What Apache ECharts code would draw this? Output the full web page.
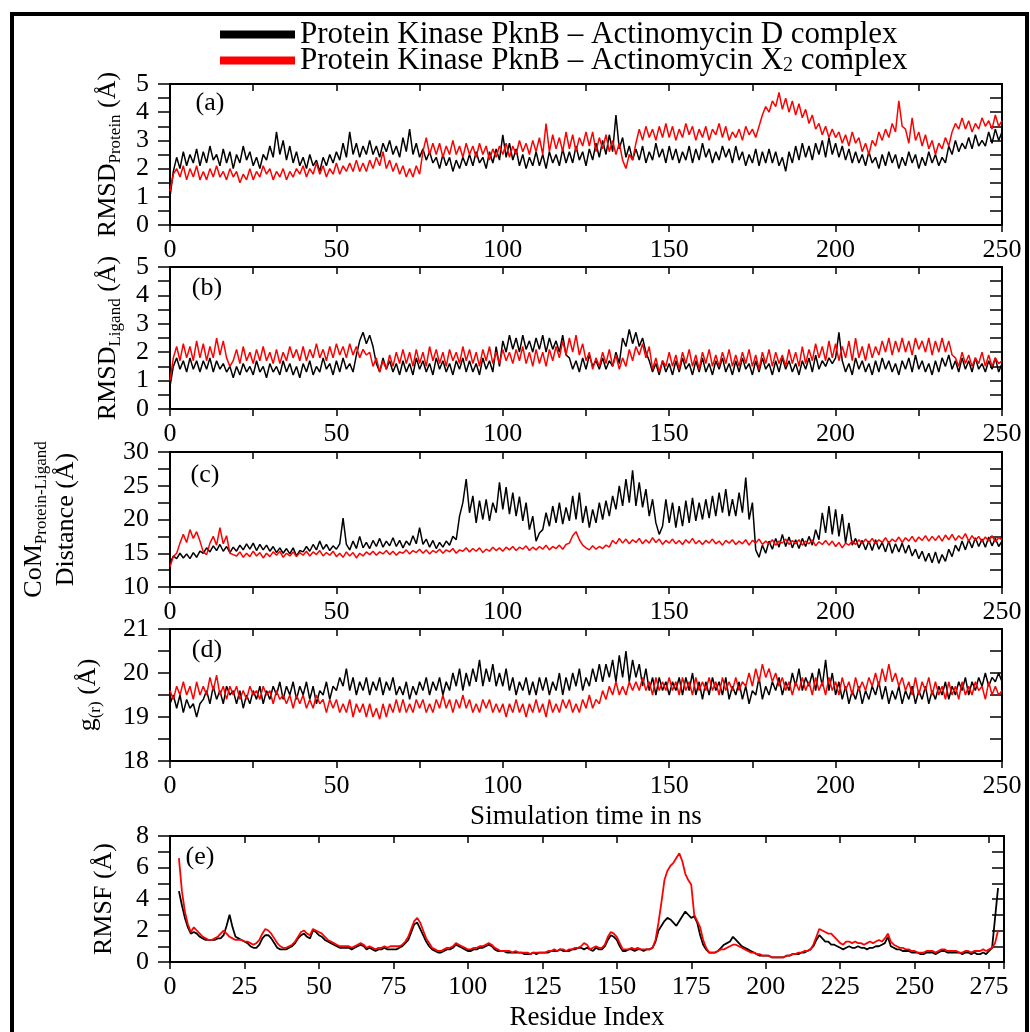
<!DOCTYPE html>
<html>
<head>
<meta charset="utf-8">
<script src="https://cdn.jsdelivr.net/npm/echarts@6/dist/echarts.min.js"></script>
<style>html,body{margin:0;padding:0;background:#fff}#c{width:1030px;height:1032px}</style>
</head>
<body>
<div id="c"></div>
<script>
const FONT = 'Liberation Serif';
const NAME_D = 'Protein Kinase PknB – Actinomycin D complex';
const NAME_X = 'Protein Kinase PknB – Actinomycin X2 complex';
const TIME_STEP_NS = 1;
const RESIDUE_START = 3;

// (a) RMSD protein (Å), one sample per ns, 0..250
const rmsdProteinD = [1.0,1.9,2.4,2.0,2.6,2.1,2.5,2.2,2.7,2.1,
 2.6,2.2,2.8,2.3,2.5,2.1,2.7,2.2,2.6,2.0,
 2.5,2.2,2.8,2.3,2.6,2.1,2.4,2.0,2.5,2.3,
 2.8,2.4,3.3,2.5,3.0,2.3,2.8,2.2,2.6,2.1,
 2.4,2.0,2.5,2.1,2.3,1.9,2.4,2.1,2.5,2.2,
 2.6,2.3,2.9,2.4,3.3,2.5,2.9,2.4,2.8,2.5,
 3.0,2.5,2.8,2.4,2.9,2.6,3.0,2.5,2.8,2.4,
 3.1,2.6,3.4,2.5,2.9,2.4,2.7,2.3,2.6,2.2,
 2.4,2.0,2.5,2.1,2.4,1.9,2.3,2.0,2.4,2.1,
 2.5,2.1,2.6,2.2,2.4,2.0,2.6,2.2,2.7,2.3,
 3.2,2.4,2.9,2.3,2.7,2.1,2.5,2.0,2.4,2.1,
 2.6,2.1,2.5,2.0,2.6,2.2,2.5,2.1,2.7,2.2,
 2.6,2.2,2.8,2.3,2.6,2.1,2.7,2.3,2.9,2.4,
 3.0,2.5,3.2,2.6,3.9,2.7,3.1,2.4,2.8,2.3,
 2.7,2.3,2.8,2.2,2.6,2.3,2.9,2.4,2.7,2.2,
 2.8,2.3,2.7,2.2,2.6,2.3,2.8,2.2,2.7,2.3,
 2.9,2.4,2.7,2.2,2.6,2.3,2.8,2.4,2.7,2.2,
 2.8,2.3,2.6,2.1,2.5,2.2,2.7,2.1,2.6,2.2,
 2.7,2.2,2.6,2.1,2.4,1.9,2.6,2.2,2.8,2.3,
 2.9,2.4,2.8,2.3,2.9,2.5,3.0,2.4,3.1,2.5,
 2.9,2.4,2.8,2.3,2.7,2.2,2.6,2.2,2.5,2.1,
 2.6,2.2,2.4,2.0,2.5,2.1,2.6,2.2,2.5,2.0,
 2.4,2.1,2.6,2.2,2.5,2.0,2.4,2.1,2.6,2.2,
 2.5,2.1,2.4,2.2,2.8,2.5,3.0,2.6,2.9,2.7,
 3.1,2.7,3.2,2.8,3.0,2.8,3.3,2.9,3.4,3.0,
 3.3];
const rmsdProteinX = [1.2,1.8,2.0,1.7,2.1,1.6,2.0,1.7,2.1,1.6,
 1.9,1.6,2.0,1.7,2.1,1.7,1.9,1.6,2.0,1.7,
 1.9,1.5,1.8,1.6,2.0,1.6,1.9,1.7,2.1,1.8,
 2.0,1.6,1.9,1.7,2.0,1.6,1.9,1.7,2.0,1.8,
 2.1,1.7,2.0,1.8,2.2,1.8,2.1,1.7,2.0,1.8,
 2.2,1.8,2.1,1.9,2.2,1.9,2.3,1.9,2.2,1.9,
 2.3,2.0,2.4,2.1,2.6,2.0,2.3,1.9,2.2,1.8,
 2.1,1.7,2.0,1.7,2.1,1.8,2.6,3.1,2.5,2.9,
 2.5,2.9,2.4,2.8,2.5,3.0,2.5,2.8,2.4,2.9,
 2.5,2.8,2.4,2.9,2.5,2.8,2.3,2.7,2.4,2.8,
 2.5,2.9,2.4,2.8,2.5,3.0,2.6,2.9,2.5,3.0,
 2.6,3.1,2.5,3.6,2.6,3.2,2.7,3.1,2.6,3.3,
 2.7,3.2,2.6,3.1,2.8,3.3,2.8,3.3,2.6,3.1,
 2.7,3.2,2.6,3.0,2.5,2.9,2.3,2.0,2.5,2.3,
 2.9,3.4,3.0,3.5,3.1,3.4,3.0,3.5,3.1,3.6,
 3.1,3.5,3.0,3.4,3.1,3.6,3.2,3.5,3.0,3.4,
 3.1,3.5,3.0,3.4,3.2,3.6,3.1,3.5,3.0,3.3,
 3.1,3.4,3.0,3.5,3.2,3.4,3.1,3.5,3.9,4.2,
 4.0,4.4,4.2,4.7,4.1,4.5,4.0,4.4,3.9,4.3,
 3.8,4.1,3.6,3.9,3.4,3.6,3.2,3.5,3.1,3.4,
 3.1,3.3,2.9,3.2,2.8,3.3,2.9,3.1,2.6,2.9,
 2.5,3.0,2.8,3.3,3.0,3.4,3.1,3.6,3.3,4.4,
 3.5,3.4,2.9,3.8,3.0,3.3,2.8,3.2,2.7,3.0,
 2.5,2.9,2.7,3.1,2.8,3.3,3.6,3.4,3.8,3.4,
 3.7,3.3,3.6,3.4,3.8,3.5,3.7,3.4,3.9,3.5,
 3.7];

// (b) RMSD ligand (Å)
const rmsdLigandD = [0.8,1.5,1.8,1.4,1.7,1.3,1.8,1.4,1.7,1.3,
 1.7,1.4,1.8,1.3,1.7,1.4,1.6,1.3,1.5,1.1,
 1.5,1.2,1.6,1.3,1.5,1.2,1.7,1.3,1.5,1.1,
 1.6,1.3,1.5,1.2,1.7,1.3,1.6,1.2,1.5,1.1,
 1.6,1.3,1.7,1.2,1.5,1.3,1.8,1.4,1.6,1.2,
 1.7,1.3,1.8,1.4,1.6,1.3,1.9,2.4,2.7,2.3,
 2.6,2.2,1.6,1.3,1.8,1.4,1.7,1.3,1.6,1.2,
 1.7,1.3,1.6,1.2,1.8,1.4,1.7,1.3,1.6,1.2,
 1.8,1.4,1.7,1.3,1.6,1.2,1.7,1.4,1.8,1.3,
 1.7,1.3,1.6,1.2,1.8,1.4,1.7,1.3,2.2,1.5,
 2.4,2.0,2.6,2.1,2.5,2.0,2.6,2.1,2.4,2.0,
 2.5,2.1,2.6,2.0,2.5,2.1,2.4,2.0,2.6,1.9,
 1.8,1.4,1.7,1.3,1.8,1.4,1.9,1.5,1.7,1.4,
 1.8,1.4,1.7,1.5,2.0,1.6,2.5,2.2,2.8,2.3,
 2.7,2.2,2.5,2.0,1.7,1.3,1.6,1.2,1.7,1.3,
 1.6,1.2,1.7,1.3,1.8,1.4,1.6,1.2,1.7,1.3,
 1.8,1.3,1.6,1.2,1.7,1.4,1.8,1.3,1.6,1.2,
 1.7,1.3,1.8,1.4,1.6,1.2,1.7,1.3,1.8,1.4,
 1.6,1.2,1.7,1.3,1.8,1.4,1.7,1.3,1.6,1.2,
 1.7,1.4,1.8,1.3,1.9,1.4,1.7,1.5,1.8,1.6,
 1.8,2.7,1.7,1.3,1.6,1.2,1.8,1.4,1.7,1.3,
 1.6,1.2,1.7,1.3,1.8,1.4,1.7,1.3,1.6,1.2,
 1.7,1.4,1.8,1.3,1.9,1.4,1.7,1.3,1.6,1.2,
 1.7,1.3,1.8,1.5,1.9,1.4,1.7,1.3,1.8,1.4,
 1.7,1.3,1.8,1.4,1.6,1.3,1.7,1.4,1.8,1.3,
 1.6];
const rmsdLigandX = [1.0,1.8,2.2,1.7,2.3,1.8,2.2,1.7,2.4,1.8,
 2.3,1.7,2.2,1.8,2.5,1.9,2.4,1.8,1.5,1.7,
 2.1,1.6,2.2,1.7,2.0,1.6,2.1,1.7,2.2,1.7,
 2.0,1.6,2.1,1.6,2.0,1.7,2.2,1.8,2.1,1.7,
 2.2,1.7,2.1,1.8,2.3,1.8,2.1,1.7,2.2,1.8,
 2.3,1.9,2.2,1.8,2.3,1.9,2.2,1.8,2.1,1.9,
 2.0,1.5,1.8,1.3,1.7,1.4,1.9,1.5,2.0,1.6,
 2.1,1.6,2.0,1.5,2.1,1.6,2.0,1.5,2.2,1.7,
 2.1,1.6,2.0,1.5,2.1,1.7,2.0,1.6,2.2,1.7,
 2.1,1.6,2.0,1.5,2.1,1.7,2.2,1.6,2.0,1.6,
 2.1,1.7,2.0,1.6,2.1,1.7,2.2,1.6,2.0,1.5,
 2.1,1.6,2.0,1.5,2.1,1.7,2.2,1.8,2.4,1.9,
 2.5,2.0,2.6,1.9,2.3,1.7,2.0,1.4,1.8,1.5,
 2.0,1.6,2.1,1.5,1.9,1.4,1.8,1.5,2.1,1.7,
 2.2,1.9,2.3,1.8,2.2,1.4,1.8,1.3,1.7,1.5,
 2.0,1.5,1.9,1.4,2.0,1.6,2.1,1.5,1.9,1.4,
 2.0,1.6,2.1,1.5,1.9,1.5,2.0,1.6,2.1,1.5,
 1.9,1.5,2.0,1.6,2.1,1.5,1.9,1.4,2.0,1.6,
 2.1,1.5,2.0,1.6,1.9,1.5,2.1,1.6,2.0,1.5,
 2.2,1.6,2.1,1.7,2.3,1.8,2.2,1.7,2.4,1.8,
 2.3,1.7,2.2,1.8,2.4,1.7,2.5,1.8,2.2,1.7,
 2.3,1.8,2.2,1.9,2.4,2.0,2.5,1.9,2.4,2.0,
 2.5,2.0,2.4,1.9,2.5,2.1,2.4,2.0,2.5,1.9,
 2.4,2.0,2.5,2.0,2.4,1.9,1.8,1.5,2.0,1.6,
 1.9,1.5,1.8,1.6,2.0,1.5,1.9,1.5,1.8,1.6,
 1.7];

// (c) CoM protein-ligand distance (Å)
const comDistD = [13.5,14.6,14.2,15.0,14.3,14.9,14.2,15.1,14.4,15.3,
 15.0,15.8,15.2,16.1,15.4,16.3,15.3,16.0,15.1,15.9,
 15.3,16.2,15.5,16.4,15.6,16.5,15.4,16.3,15.5,16.2,
 15.3,16.0,15.1,15.8,15.0,15.7,14.9,15.8,14.6,15.4,
 15.2,16.0,15.3,16.3,15.5,16.8,15.6,16.3,15.4,16.1,
 15.6,16.4,20.2,16.3,15.5,16.8,15.7,17.5,15.8,16.6,
 15.7,16.9,16.0,17.2,15.9,16.8,16.1,17.3,16.0,16.9,
 15.8,16.8,16.2,17.6,16.4,18.8,16.3,17.1,15.9,16.9,
 15.7,16.6,15.9,16.8,16.2,17.5,17.0,20.5,22.5,26.0,
 21.0,23.5,19.5,22.8,20.0,23.0,19.8,22.5,21.0,25.5,
 21.5,24.8,20.8,24.0,20.5,23.4,19.8,22.5,18.5,20.5,
 16.8,18.0,18.5,21.0,19.0,22.0,19.5,22.5,19.3,21.8,
 19.8,23.5,20.0,24.0,19.5,22.0,18.8,21.5,19.5,22.5,
 20.0,22.8,20.5,23.5,21.5,25.0,22.0,26.0,22.5,27.3,
 22.0,25.5,21.8,24.5,20.5,23.0,19.5,17.8,19.0,23.0,
 19.5,22.5,18.8,22.0,19.0,22.8,19.5,23.2,19.8,22.5,
 20.0,23.0,20.2,23.5,20.5,24.0,21.0,24.5,20.5,23.0,
 20.5,24.0,21.0,26.2,20.0,22.5,15.5,14.4,16.2,15.0,
 16.8,15.6,17.2,15.9,17.8,16.0,17.4,15.8,17.0,15.7,
 17.2,16.0,17.5,16.2,18.5,17.0,21.0,18.0,22.0,17.8,
 21.5,17.5,20.8,16.5,19.5,16.2,17.2,15.8,16.9,15.5,
 16.8,15.4,17.0,15.6,16.6,15.2,16.8,15.0,16.4,15.2,
 16.5,15.0,16.2,14.6,15.6,14.2,15.3,13.8,15.0,13.6,
 15.2,13.5,14.8,13.8,15.6,14.5,16.2,15.3,16.8,15.5,
 17.0,15.8,17.3,16.0,17.1,15.9,17.4,16.1,17.2,16.0,
 16.8];
const comDistX = [13.0,14.5,15.0,16.5,17.8,16.6,18.5,17.2,18.2,16.8,
 15.2,14.8,16.5,17.5,16.2,18.8,16.4,17.6,15.0,14.8,
 14.6,15.2,14.4,15.0,14.5,15.3,14.6,15.1,14.3,15.0,
 14.5,15.2,14.7,15.3,14.4,15.0,14.6,15.2,14.5,15.1,
 14.7,15.3,14.6,15.2,14.8,15.4,14.6,15.1,14.7,15.3,
 14.5,15.0,14.4,15.2,14.6,15.1,14.3,15.0,14.6,15.2,
 14.8,15.3,14.7,15.2,14.9,15.4,14.8,15.3,14.7,15.2,
 15.0,15.5,14.9,15.4,15.1,15.6,15.0,15.5,14.9,15.4,
 15.1,15.6,15.0,15.5,15.2,15.7,15.0,15.5,15.3,15.8,
 15.2,15.7,15.3,15.8,15.1,15.6,15.3,15.9,15.4,15.8,
 15.3,15.9,15.5,16.0,15.4,15.9,15.6,16.1,15.4,15.9,
 15.5,16.0,15.6,16.2,15.5,16.0,15.7,16.2,15.6,16.3,
 16.5,17.6,18.2,17.0,16.2,15.8,15.5,16.1,15.6,16.0,
 15.7,16.2,15.9,16.9,16.4,17.2,16.5,17.1,16.4,17.0,
 16.6,17.2,16.4,17.0,16.5,17.3,16.6,17.1,16.3,16.9,
 16.5,17.1,16.4,16.9,16.3,17.0,16.5,17.2,16.4,16.9,
 16.3,16.9,16.5,17.1,16.4,16.8,16.2,16.9,16.5,17.0,
 16.3,16.8,16.4,17.0,16.2,16.9,16.5,17.1,16.3,16.8,
 16.4,17.0,16.2,16.8,16.5,17.1,16.3,16.9,16.4,17.0,
 16.2,16.8,16.4,17.0,16.1,16.7,16.3,16.9,16.2,16.8,
 16.0,16.6,15.8,16.5,16.2,16.8,16.3,17.0,16.4,17.1,
 16.5,17.2,16.4,17.0,16.6,17.3,16.5,17.1,16.7,17.4,
 16.6,17.3,16.8,17.5,16.7,17.4,16.9,17.6,16.8,17.5,
 16.9,17.6,16.8,17.7,17.0,17.8,16.9,17.6,17.1,17.9,
 16.8,17.6,16.9,17.5,16.7,17.4,16.8,17.6,16.7,17.3,
 17.0];

// (d) radius of gyration (Å)
const gyrD = [19.3,19.5,19.2,19.5,19.1,19.4,19.2,19.3,19.0,19.3,
 19.4,19.6,19.3,19.7,19.4,19.6,19.3,19.7,19.5,19.6,
 19.3,19.6,19.2,19.5,19.3,19.6,19.4,19.7,19.3,19.6,
 19.4,19.7,19.5,19.8,19.4,19.7,19.5,19.8,19.4,19.7,
 19.5,19.8,19.4,19.7,19.3,19.6,19.5,19.8,19.4,19.7,
 19.6,19.9,19.7,20.1,19.6,19.9,19.5,19.8,19.6,19.9,
 19.5,19.8,19.6,19.9,19.5,19.8,19.6,19.9,19.5,19.7,
 19.5,19.8,19.4,19.7,19.5,19.8,19.6,19.9,19.5,19.8,
 19.6,19.9,19.5,19.8,19.6,20.0,19.7,20.1,19.6,20.0,
 19.7,20.1,19.8,20.3,19.7,20.1,19.8,20.2,19.7,20.0,
 19.7,20.1,19.6,19.9,19.5,19.8,19.6,19.9,19.5,19.8,
 19.5,19.9,19.6,19.9,19.5,19.8,19.6,20.0,19.5,19.9,
 19.6,20.0,19.7,20.1,19.6,19.9,19.7,20.1,19.8,20.2,
 19.8,20.2,19.9,20.3,19.8,20.4,19.9,20.5,19.8,20.3,
 19.9,20.2,19.7,20.1,19.6,19.9,19.5,19.9,19.6,19.8,
 19.5,19.8,19.6,19.9,19.5,19.9,19.6,20.0,19.5,19.8,
 19.4,19.8,19.5,19.9,19.6,19.8,19.5,19.9,19.4,19.7,
 19.5,19.8,19.4,19.7,19.3,19.6,19.5,19.9,19.4,19.7,
 19.5,19.8,19.6,19.9,19.5,19.8,19.6,20.0,19.7,20.1,
 19.6,19.9,19.7,20.0,19.6,20.1,19.7,20.3,19.6,20.0,
 19.5,19.8,19.4,19.7,19.3,19.6,19.4,19.7,19.3,19.6,
 19.4,19.7,19.5,19.8,19.4,19.7,19.3,19.6,19.4,19.7,
 19.3,19.6,19.4,19.7,19.3,19.6,19.4,19.7,19.3,19.6,
 19.4,19.7,19.5,19.8,19.4,19.7,19.5,19.8,19.6,19.9,
 19.5,19.8,19.6,19.9,19.7,20.0,19.7,19.9,19.8,20.0,
 19.8];
const gyrX = [19.6,19.4,19.7,19.5,19.8,19.5,19.7,19.4,19.8,19.5,
 19.7,19.5,19.9,19.6,19.95,19.5,19.7,19.4,19.7,19.5,
 19.7,19.4,19.6,19.4,19.7,19.5,19.6,19.4,19.7,19.5,
 19.6,19.3,19.6,19.4,19.5,19.3,19.5,19.2,19.5,19.3,
 19.5,19.2,19.4,19.2,19.5,19.3,19.4,19.1,19.4,19.2,
 19.4,19.1,19.3,19.1,19.4,19.0,19.3,19.1,19.3,19.0,
 19.3,19.0,19.2,18.95,19.3,19.0,19.3,19.1,19.4,19.1,
 19.4,19.1,19.3,19.1,19.4,19.2,19.4,19.1,19.3,19.1,
 19.4,19.2,19.5,19.2,19.4,19.1,19.4,19.2,19.5,19.2,
 19.4,19.1,19.3,19.1,19.4,19.2,19.4,19.1,19.3,19.1,
 19.3,19.0,19.3,19.1,19.4,19.1,19.3,19.0,19.3,19.1,
 19.4,19.1,19.3,19.0,19.4,19.1,19.3,19.1,19.4,19.2,
 19.4,19.1,19.3,19.1,19.4,19.2,19.5,19.2,19.4,19.3,
 19.6,19.4,19.7,19.5,19.8,19.5,19.7,19.5,19.8,19.6,
 19.8,19.6,19.9,19.6,19.8,19.5,19.9,19.6,19.8,19.6,
 19.9,19.6,19.8,19.5,19.9,19.6,19.8,19.5,19.9,19.6,
 19.8,19.6,19.9,19.6,19.8,19.5,19.9,19.6,19.8,19.6,
 19.9,19.6,19.8,19.7,20.0,19.7,20.1,19.8,20.2,19.9,
 20.1,19.8,20.0,19.7,19.9,19.6,19.8,19.5,19.8,19.6,
 19.9,19.6,19.8,19.5,19.9,19.6,19.8,19.5,19.9,19.6,
 19.8,19.5,19.9,19.6,19.8,19.5,19.9,19.6,19.8,19.6,
 19.9,19.7,20.0,19.7,20.1,19.8,20.2,19.8,20.0,19.7,
 19.9,19.6,19.8,19.5,19.9,19.5,19.8,19.6,19.9,19.5,
 19.8,19.5,19.7,19.4,19.8,19.5,19.7,19.4,19.8,19.5,
 19.7,19.5,19.8,19.6,19.7,19.4,19.8,19.5,19.7,19.5,
 19.6];

// (e) RMSF (Å), residues 3..278
const rmsfD = [4.5,3.6,2.8,2.2,1.8,1.9,1.8,1.6,1.5,1.4,
 1.4,1.4,1.4,1.5,1.5,1.7,2.3,3.0,2.2,1.6,
 1.5,1.4,1.3,1.2,1.0,0.9,0.9,1.1,1.5,1.7,
 1.7,1.5,1.2,0.9,0.8,0.8,0.8,0.9,1.0,1.2,
 1.5,1.7,1.8,1.6,1.5,2.0,1.9,1.7,1.6,1.4,
 1.3,1.2,1.1,1.0,0.9,0.9,0.9,0.9,0.8,0.9,
 1.0,1.1,1.0,0.8,0.9,0.8,0.7,0.8,0.8,0.9,
 0.8,0.8,0.8,0.8,0.9,1.0,1.2,1.4,1.9,2.4,
 2.5,2.1,1.7,1.3,1.0,0.8,0.7,0.6,0.6,0.7,
 0.8,0.8,0.9,1.1,1.0,0.9,0.8,0.7,0.7,0.8,
 0.8,0.9,0.9,1.0,1.1,1.0,0.8,0.7,0.7,0.7,
 0.6,0.6,0.6,0.6,0.6,0.6,0.5,0.5,0.5,0.6,
 0.5,0.6,0.6,0.6,0.6,0.7,0.7,0.7,0.8,0.7,
 0.7,0.7,0.8,0.8,0.9,0.9,0.8,0.9,0.8,0.7,
 0.9,0.8,0.8,1.0,1.4,1.7,1.6,1.4,1.0,0.7,
 0.7,0.8,0.8,0.7,0.8,0.8,0.7,0.8,0.8,0.9,
 1.3,2.0,2.3,2.6,2.8,2.7,2.5,2.3,2.6,2.9,
 3.2,3.0,2.8,2.9,2.5,1.7,1.1,0.8,0.6,0.6,
 0.6,0.7,0.9,1.1,1.2,1.3,1.6,1.4,1.2,1.0,
 0.9,0.8,0.7,0.6,0.5,0.4,0.4,0.4,0.4,0.3,
 0.3,0.3,0.3,0.3,0.4,0.4,0.5,0.5,0.5,0.6,
 0.6,0.7,0.8,1.0,1.4,1.7,1.5,1.3,1.3,1.1,
 1.1,1.0,0.9,0.8,0.9,1.0,0.9,0.9,1.0,0.9,
 0.9,0.8,0.9,0.9,1.0,1.0,1.1,1.2,1.6,1.0,
 0.9,0.8,0.8,0.7,0.7,0.7,0.6,0.6,0.6,0.5,
 0.5,0.6,0.6,0.6,0.5,0.6,0.7,0.7,0.6,0.6,
 0.6,0.6,0.6,0.5,0.6,0.6,0.5,0.6,0.5,0.5,
 0.6,0.5,0.7,0.9,2.8,4.7];
const rmsfX = [6.6,4.5,3.2,2.4,1.9,2.2,2.0,1.8,1.6,1.5,
 1.4,1.4,1.5,1.6,1.8,2.0,1.8,1.6,1.5,1.4,
 1.4,1.4,1.3,1.3,1.2,1.1,1.2,1.4,1.8,2.1,
 2.0,1.8,1.5,1.2,1.0,0.9,0.9,1.0,1.1,1.3,
 1.6,1.9,2.0,1.8,1.7,2.1,2.0,1.9,1.8,1.6,
 1.4,1.3,1.2,1.1,1.0,1.0,1.0,1.0,0.9,1.0,
 1.1,1.2,1.1,0.9,1.0,0.9,0.8,0.9,0.9,1.0,
 0.9,1.0,1.0,1.0,1.0,1.1,1.3,1.6,2.1,2.6,
 2.8,2.5,2.0,1.5,1.2,0.9,0.8,0.7,0.7,0.8,
 0.9,0.9,1.0,1.2,1.1,1.0,0.9,0.8,0.8,0.9,
 0.9,1.0,1.0,1.1,1.2,1.1,0.9,0.8,0.7,0.7,
 0.7,0.7,0.6,0.7,0.6,0.6,0.6,0.6,0.5,0.6,
 0.6,0.6,0.6,0.6,0.7,0.7,0.8,0.7,0.8,0.8,
 0.7,0.8,0.8,0.9,0.9,1.0,1.2,1.1,0.8,0.9,
 1.0,0.9,0.9,1.1,1.6,1.9,1.8,1.6,1.2,0.8,
 0.8,0.8,0.9,0.8,0.9,0.8,0.8,0.8,0.8,0.9,
 1.4,2.5,3.8,5.2,5.8,6.1,6.3,6.6,6.9,6.4,
 5.6,5.2,4.9,3.0,2.6,2.2,1.4,0.9,0.6,0.6,
 0.6,0.7,0.8,0.8,0.9,1.0,1.1,1.1,1.0,0.9,
 0.8,0.7,0.6,0.6,0.5,0.5,0.4,0.4,0.4,0.3,
 0.3,0.3,0.3,0.3,0.4,0.4,0.5,0.5,0.6,0.6,
 0.7,0.7,0.8,1.1,1.6,2.1,2.0,1.9,1.8,1.8,
 1.6,1.4,1.2,1.1,1.3,1.3,1.2,1.3,1.2,1.2,
 1.1,1.2,1.3,1.2,1.3,1.4,1.3,1.5,1.8,1.3,
 1.1,1.0,0.9,0.9,0.8,0.8,0.7,0.7,0.6,0.6,
 0.6,0.7,0.7,0.7,0.6,0.7,0.8,0.8,0.7,0.7,
 0.7,0.7,0.6,0.6,0.7,0.7,0.6,0.7,0.7,0.7,
 0.8,0.7,0.8,0.9,1.2,2.0];

const panelLetters = ['(a)', '(b)', '(c)', '(d)', '(e)'];

function timeData(arr) { return arr.map((v, i) => [i * TIME_STEP_NS, v]); }
function resData(arr) { return arr.map((v, i) => [RESIDUE_START + i, v]); }

const grids = [
  { left: 170, right: 28, top: 84, height: 141 },
  { left: 170, right: 28, top: 267, height: 142 },
  { left: 170, right: 28, top: 452, height: 135 },
  { left: 170, right: 28, top: 629, height: 132 },
  { left: 170, right: 26, top: 836, height: 130 }
].map(g => Object.assign({ show: true, borderColor: '#000', borderWidth: 1.5, backgroundColor: 'transparent' }, g));

const sub = { fontFamily: FONT, fontSize: 17, color: '#000', verticalAlign: 'bottom', lineHeight: 14 };
const mainT = { fontFamily: FONT, fontSize: 26, color: '#000', lineHeight: 32 };

const yCfg = [
  { min: 0, max: 5, interval: 1, name: '{m|RMSD}{s|Protein}{m| (Å)}', gap: 46 },
  { min: 0, max: 5, interval: 1, name: '{m|RMSD}{s|Ligand}{m| (Å)}', gap: 46 },
  { min: 10, max: 30, interval: 5, name: '{m|CoM}{s|Protein-Ligand}\n{m|Distance (Å)}', gap: 88 },
  { min: 18, max: 21, interval: 1, name: '{m|g}{s|(r)}{m| (Å)}', gap: 66 },
  { min: 0, max: 8, interval: 2, name: '{m|RMSF (Å)}', gap: 50 }
];
const xCfg = [
  { min: 0, max: 250, interval: 50, minor: true },
  { min: 0, max: 250, interval: 50, minor: true },
  { min: 0, max: 250, interval: 50, minor: true },
  { min: 0, max: 250, interval: 50, minor: true, name: 'Simulation time in ns' },
  { min: 0, max: 280, interval: 25, minor: false, name: 'Residue Index' }
];

const xAxis = [], yAxis = [];
const tickStyle = { color: '#000', width: 1.5 };
xCfg.forEach((c, gi) => {
  const base = {
    type: 'value', gridIndex: gi, min: c.min, max: c.max, interval: c.interval,
    splitLine: { show: false },
    axisLine: { show: true, onZero: false, lineStyle: { color: '#000', width: 2 } }
  };
  xAxis.push(Object.assign({}, base, {
    axisTick: { show: true, inside: false, length: 7, lineStyle: tickStyle },
    minorTick: { show: c.minor, splitNumber: 2, length: 7, lineStyle: tickStyle },
    axisLabel: {
      show: true, fontFamily: FONT, fontSize: 26, color: '#000', margin: 12,
      formatter: v => (v % c.interval === 0 ? String(v) : '')
    },
    name: c.name || '', nameLocation: 'middle', nameGap: 42,
    nameTextStyle: { fontFamily: FONT, fontSize: 27, color: '#000' }
  }));
  xAxis.push(Object.assign({}, base, {
    axisTick: { show: true, inside: true, length: 7, lineStyle: tickStyle },
    minorTick: { show: c.minor, splitNumber: 2, length: 7, lineStyle: tickStyle },
    axisLabel: { show: false }
  }));
});
yCfg.forEach((c, gi) => {
  const base = {
    type: 'value', gridIndex: gi, min: c.min, max: c.max, interval: c.interval,
    splitLine: { show: false },
    axisLine: { show: true, onZero: false, lineStyle: { color: '#000', width: 2 } }
  };
  yAxis.push(Object.assign({}, base, {
    axisTick: { show: true, inside: false, length: 12, lineStyle: tickStyle },
    minorTick: { show: true, splitNumber: 2, length: 12, lineStyle: tickStyle },
    axisLabel: { show: true, fontFamily: FONT, fontSize: 26, color: '#000', margin: 21 },
    name: c.name, nameLocation: 'middle', nameRotate: 90, nameGap: c.gap,
    nameTextStyle: { fontFamily: FONT, fontSize: 26, color: '#000', align: 'center', rich: { m: mainT, s: sub } }
  }));
  yAxis.push(Object.assign({}, base, {
    axisTick: { show: true, inside: true, length: 12, lineStyle: tickStyle },
    minorTick: { show: true, splitNumber: 2, length: 12, lineStyle: tickStyle },
    axisLabel: { show: false }
  }));
});

const panels = [
  [rmsdProteinD, rmsdProteinX, timeData],
  [rmsdLigandD, rmsdLigandX, timeData],
  [comDistD, comDistX, timeData],
  [gyrD, gyrX, timeData],
  [rmsfD, rmsfX, resData]
];
const series = [];
panels.forEach((p, gi) => {
  [[NAME_D, '#000000', p[0]], [NAME_X, '#ff0000', p[1]]].forEach(s => {
    series.push({
      type: 'line', name: s[0], xAxisIndex: gi * 2, yAxisIndex: gi * 2,
      data: p[2](s[2]), showSymbol: false, symbol: 'none', animation: false,
      lineStyle: { color: s[1], width: gi === 4 ? 1.8 : 1.5 }, itemStyle: { color: s[1] }
    });
  });
});

const legendBase = {
  orient: 'vertical', left: 215, itemWidth: 75, itemHeight: 8, icon: 'rect', itemGap: 0,
  selectedMode: false,
  textStyle: { fontFamily: FONT, fontSize: 31, color: '#000', rich: { b: { fontFamily: FONT, fontSize: 31, color: '#000' }, s: { fontFamily: FONT, fontSize: 20, color: '#000', verticalAlign: 'bottom', lineHeight: 16 } } }
};

const letterPos = [[210, 103], [207, 288], [205, 475], [207, 650], [200, 857]];
const graphic = [
  { type: 'rect', shape: { x: 12, y: 14, width: 1015, height: 1040 }, style: { fill: 'none', stroke: '#000', lineWidth: 4 }, silent: true }
].concat(panelLetters.map((t, i) => ({
  type: 'text', x: letterPos[i][0], y: letterPos[i][1],
  style: { text: t, font: '26px "Liberation Serif"', fill: '#000', textAlign: 'center', textVerticalAlign: 'middle' }
})));

const chart = echarts.init(document.getElementById('c'), null, { renderer: 'canvas' });
chart.setOption({
  backgroundColor: '#fff',
  animation: false,
  grid: grids,
  xAxis: xAxis,
  yAxis: yAxis,
  legend: [
    Object.assign({}, legendBase, { top: 14, data: [{ name: NAME_D, itemStyle: { color: '#000' } }], formatter: n => '{b|' + n + '}' }),
    Object.assign({}, legendBase, { top: 40, data: [{ name: NAME_X, itemStyle: { color: '#ff0000' } }], formatter: () => '{b|Protein Kinase PknB – Actinomycin X}{s|2}{b| complex}' })
  ],
  graphic: graphic,
  series: series
});
</script>
</body>
</html>
